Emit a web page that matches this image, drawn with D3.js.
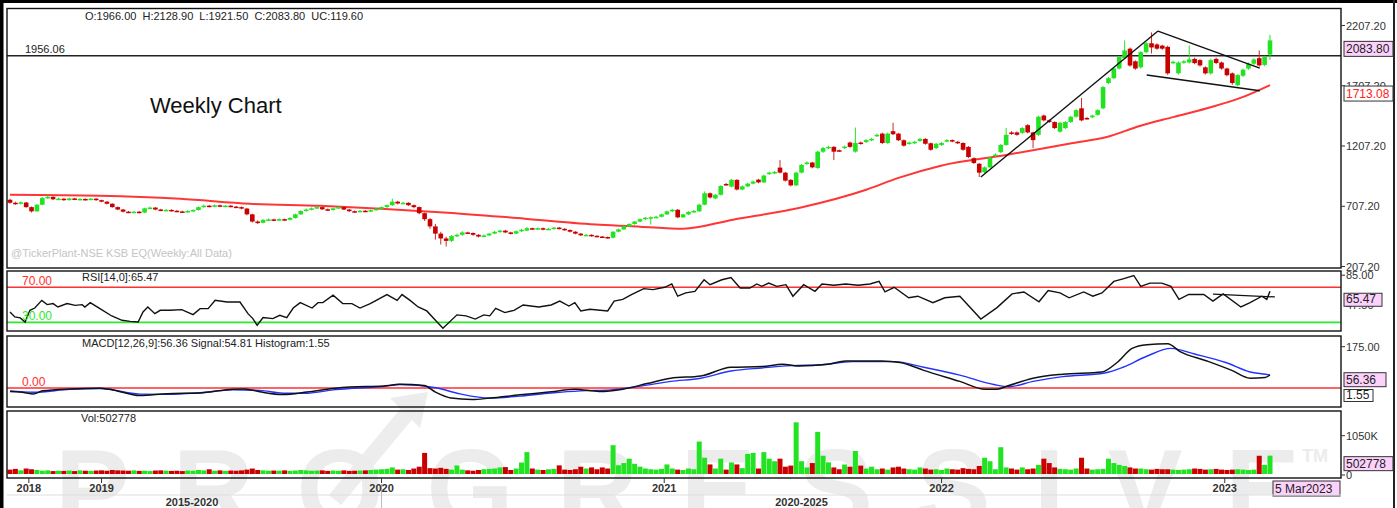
<!DOCTYPE html>
<html><head><meta charset="utf-8">
<script src="https://cdn.jsdelivr.net/npm/d3@7"></script>
<style>body{margin:0;background:#fff}svg{display:block}text{font-family:"Liberation Sans",Arial,sans-serif}</style>
</head><body><svg id="c" width="1397" height="508"></svg>
<script>
// ---- weekly OHLC (Sep 2018 .. 5 Mar 2023) ----
const opens = [
761,736,728,738,700,665,720,775,785,765, 770,758,772,764,768,762,770,758,745,728,
700,680,662,656,662,655,690,696,680,672, 677,670,664,660,668,676,700,712,704,715,
706,712,704,700,688,640,580,570,594,598, 590,600,595,610,640,668,680,690,700,682,
676,690,700,680,666,660,670,664,675,686, 700,716,745,730,736,716,700,650,600,540,
480,440,420,460,470,490,485,470,456,465, 480,495,505,490,480,500,505,525,518,525,
515,520,530,520,510,496,480,466,470,462, 456,452,446,496,515,540,560,580,600,612,
616,620,640,665,678,615,640,660,665,720, 815,772,802,892,870,926,846,872,895,928,
905,975,982,1028,986,926,880,986,1060,1070, 1025,1160,1190,1200,1172,1190,1236,1160,1236,1240,
1256,1290,1310,1232,1330,1310,1255,1226,1232,1250, 1266,1230,1190,1216,1246,1256,1242,1232,1200,1106,
1060,990,1030,1126,1156,1216,1320,1320,1316,1380, 1320,1300,1460,1420,1406,1326,1356,1406,1450,1520,
1440,1446,1466,1520,1730,1770,1850,1936,2015,1910, 1860,1986,2060,2050,2040,2030,1896,1810,1900,1900,
1930,1920,1860,1810,1930,1900,1850,1810,1712,1790, 1850,1890,1936,1880,1966];
const highs = [
770,745,748,742,705,725,785,800,790,778, 774,778,776,775,772,776,774,762,750,732,
705,685,668,668,668,695,705,700,686,684, 682,675,670,674,682,706,720,718,722,720,
718,716,710,705,692,645,590,600,605,604, 606,605,616,646,674,688,697,708,705,688,
696,708,705,685,672,676,675,680,692,706, 722,770,752,744,740,722,705,655,610,560,
495,455,468,480,500,496,490,475,472,486, 502,512,510,495,506,520,535,530,532,530,
528,536,536,525,515,500,485,476,474,466, 460,456,500,522,546,566,586,606,618,622,
628,646,672,686,684,646,666,676,728,830, 822,810,882,900,934,932,880,902,920,934,
970,994,1000,1090,992,932,994,1058,1080,1076, 1168,1200,1210,1206,1178,1210,1244,1360,1244,1264,
1274,1310,1318,1318,1400,1316,1262,1244,1250,1274, 1272,1236,1234,1240,1264,1262,1250,1238,1206,1112,
1066,1038,1118,1146,1224,1356,1330,1328,1364,1388, 1326,1458,1468,1428,1412,1408,1414,1458,1512,1605,
1448,1468,1512,1704,1780,1860,1955,2083,2025,1918, 1994,2070,2150,2060,2048,2040,1916,1910,1920,2042,
1940,1928,1868,1930,1940,1908,1858,1818,1804,1850, 1900,1935,2000,1956,2128.9];
const lows = [
728,720,722,695,655,660,715,770,758,760, 752,754,758,760,756,758,752,740,722,695,
675,656,650,650,648,650,684,674,666,667, 664,658,654,655,662,670,695,698,700,700,
700,698,694,682,632,572,560,565,588,584, 585,588,590,605,635,662,674,684,676,670,
670,684,675,660,654,655,658,660,670,680, 695,710,722,724,710,690,640,585,520,430,
390,373,410,452,462,476,462,448,450,460, 475,488,484,472,476,494,500,512,512,508,
510,514,514,504,490,474,460,460,455,450, 446,438,440,490,510,534,554,574,594,555,
608,614,634,658,608,610,634,654,660,715, 772,765,796,878,864,838,840,866,888,898,
900,968,974,980,912,872,874,980,1052,1022, 1018,1150,1182,1090,1158,1182,1192,1152,1218,1232,
1248,1282,1224,1226,1298,1248,1202,1218,1224,1242, 1218,1168,1182,1208,1238,1238,1224,1168,1108,1058,
950,982,1024,1118,1148,1210,1300,1292,1308,1312, 1190,1292,1412,1398,1348,1318,1348,1398,1442,1412,
1426,1438,1458,1512,1720,1762,1842,1928,1865,1840, 1850,1976,1975,2005,2005,1798,1886,1800,1890,1892,
1886,1866,1800,1800,1886,1840,1785,1715,1702,1780, 1840,1880,1866,1870,1921.5];
const closes = [
736,728,740,700,665,720,775,785,765,770, 758,772,764,768,762,770,758,745,728,700,
680,662,656,662,655,690,696,680,672,677, 670,664,660,668,676,700,712,704,715,706,
712,704,700,688,640,580,570,594,598,590, 600,595,610,640,668,680,690,700,682,676,
690,700,680,666,660,670,664,675,686,700, 716,745,730,736,716,700,650,600,540,480,
440,420,460,470,490,485,470,456,465,480, 495,505,490,480,500,512,525,518,525,515,
520,530,520,510,496,480,466,470,462,456, 452,446,496,515,540,560,580,600,612,616,
620,640,665,678,615,640,660,668,720,815, 780,802,875,886,926,846,872,895,912,905,
962,986,992,986,920,880,986,1050,1070,1030, 1160,1190,1200,1160,1166,1202,1200,1232,1226,1256,
1266,1300,1232,1310,1305,1255,1210,1236,1242,1266, 1226,1176,1226,1232,1256,1246,1232,1176,1116,1066,
986,1030,1110,1136,1216,1300,1310,1300,1356,1320, 1256,1450,1420,1406,1356,1400,1406,1450,1505,1420,
1434,1460,1505,1696,1770,1850,1945,2000,1875,1850, 1986,2060,2025,2015,2015,1810,1906,1900,1910,1926,
1895,1876,1810,1920,1896,1850,1795,1730,1796,1840, 1890,1925,1876,1946,2083.8];
// volume, thousands
const volumes = [
120,140,100,150,130,110,90,100,80,90, 85,95,80,100,90,85,95,100,90,110,
100,95,90,100,85,90,80,95,100,90, 85,90,80,95,90,110,100,130,90,100,
85,95,90,100,120,150,110,100,90,95, 90,100,85,95,110,100,90,95,100,85,
95,90,100,85,90,95,100,110,120,130, 140,180,120,130,110,150,200,578,160,150,
170,140,120,236,120,100,90,110,130,140, 150,180,190,110,150,315,600,150,120,110,
130,140,236,120,110,130,200,150,180,130, 180,150,790,240,300,420,280,200,150,130,
120,140,262,150,120,110,150,130,890,446, 262,150,420,120,315,262,160,550,577,150,
600,420,350,420,200,230,1417,350,180,300, 1155,500,320,180,130,260,200,630,230,150,
200,130,150,120,180,200,150,130,120,180, 150,120,130,110,150,130,120,160,140,130,
220,446,350,130,735,180,150,120,180,130, 150,250,420,300,180,140,130,120,150,446,
150,120,130,140,420,300,250,220,180,150, 150,130,120,140,130,130,120,110,120,130,
150,140,120,130,140,120,110,120,130,120, 110,120,500,250,502.778];
// moving average (read points: week index, value)
const maIdx = [0,16.7,31.6,44.6,57.6,68.9,81.3,95.6,109.6,117,125,134.3,146.7,159,165,172.7,185,197.4,203.7,209.8,216,222.3,228.4,234];
const maVal = [802,794,769,728,711,687,654,604,554,538,521,596,695,844,943,1042,1133,1232,1282,1373,1447,1521,1604,1713.08];
// RSI (week index, value)
const rsiIdx = [0,0.9,1.9,2.8,3.7,4.6,5.9,6.9,8,8.9,10.6,12.1,13.4,13.9,14.9,16.7,18.9,20.8,22.3,23.8,24.7,25.6,26.9,27.9,29.7,31.9,34,35.3,36.8,38.1,40.3,42.7,44.2,45.1,45.9,47,48.8,50.1,51.4,52.6,53.9,56.1,57.2,58.1,60,61.8,63.5,65,66.9,70,71.9,72.8,74.3,75.8,77.4,79.1,80.4,83,84.7,86.4,88,89.1,90.2,91.9,93.6,95.3,98.2,100.5,102.1,103.8,104.9,106,107.7,111,112.2,113.8,115.5,117.7,119.4,121.6,122.9,124,125.5,127.2,128.9,130,132.2,133.9,135.6,137.4,138.7,139.6,140.9,142.4,144.1,145.4,147.4,149.5,150.8,153,155.2,157.5,159.7,161.4,162.5,164.2,166.9,168.6,171.4,173.6,176.4,180.3,183.3,186.1,188.3,191.1,192.8,195,196.7,199.4,201.1,202.8,205,206.7,208.7,210,211.7,213.9,215.6,217.1,218.9,221.7,223.4,225.3,228.6,230.3,232.5,233.4,234];
const rsiVal = [41.8,36.1,35,30.3,43.7,46.3,55.1,50.2,51.4,47.5,51.4,49.4,50.2,47.5,52.5,45.6,37.2,32.3,31.1,30.3,41.8,47.5,39.9,43.7,43.7,44.5,38.8,45.6,45.6,55.1,53.2,53.2,39.9,34.2,26.6,35.4,34.2,38,35.4,46.3,52.5,46.3,52.5,52.5,60.9,51.4,51.4,46.3,51.4,61.7,55.1,61.7,55.1,47.5,43,31.7,23.1,38.5,37.4,33.7,38.5,37.4,46,41.1,43.7,49.8,47.5,49.8,54.2,48.6,52.4,43,44.9,43,54.2,56.2,61.8,68.5,67.4,70,73.8,59.8,63.6,65.4,78.6,73,78.6,81.2,69.2,69.2,73.8,71.1,74.8,71.1,73,59.8,73,65.4,73.8,72.3,73.8,72.3,73.8,76.7,64.7,70,58,59.8,52.4,58,59.8,33.7,46.8,62.5,64.7,53.5,66.2,63.6,58,64.7,59.8,63.6,76.7,79.7,83.5,71.1,74.8,74.8,71.1,56.2,61.8,61.8,54.2,62.5,47.5,52.4,59.8,56.2,65.47];
// MACD line and signal (week index, value)
const macdIdx = [0,2.8,4.3,6.1,11.1,16.7,19.1,24.1,29.2,35.3,41.4,43.6,46.4,50.7,55.2,60,63.1,69.3,72.4,76.9,79.1,81.9,85.8,89.1,94.7,100.5,104.9,109.4,113.8,118.3,122.7,128.3,133.9,139.6,143.5,146.3,151.9,155.2,161.9,165.3,169.7,176.4,181.1,183.3,185.5,190,195.5,202.8,205.6,208.4,211.1,215,217.3,222.3,226.9,230.3,233.1,234];
const macdVal = [-15,-20,-25.6,-12,-4,-1,-8,-32,-24,-21,-5,-4,-16,-28,-17,-2,4,8,16,10.6,-18.7,-42.7,-49,-42.7,-29,-16,-5,-14.6,-5,18.7,41.5,50.8,88,90.6,101,93.5,101,114.6,114.6,108,74.8,28,-5.3,-5,10.6,41.5,58.6,68,108,168,183.7,187.8,154.5,114.6,74.8,41.5,44,56.36];
const sigIdx = [0,4.3,11.1,16.7,24.1,29.2,35.3,41.4,46.4,50.7,55.2,60,63.1,69.3,72.4,79.1,83.6,89.1,94.7,100.5,106,111.6,117.2,122.7,128.3,133.9,139.6,145.2,150.8,156.4,164.2,169.7,176.4,182.7,185.5,190,195.5,203.3,206.7,211.1,215.6,220,225.8,230.3,233.2,234];
const sigVal = [-12,-18,-6,-2,-26,-27,-20,-8,-10,-22,-22,-8,-2,6,15,1,-25,-42.7,-34.6,-21,-12,-8,8,28,41.5,72,85,94.7,98.8,111.8,111.8,88,54.5,14.6,5.3,28,48,63.8,88,134.5,168,144,108,68,58,54.81];
// drawn trendlines (week index / price)
const trendFromIdx = [180.3,213.2,211.1];
const trendFromVal = [950,2161,1796];
const trendToIdx   = [213.2,232.1,232.1];
const trendToVal   = [2161,1854,1666];
const hLevel = 1956.06;
const rsiTrendIdx = [223.4,234.9];
const rsiTrendVal = [62.1,59.0];
// axes
const priceTicks = [2207.2,1707.2,1207.2,707.2,207.2];
const yearLabels = ["2018","2019","2020","2021","2022","2023"];
const yearIdx = [3.5,17,69,121.5,173,225.6];
const eraLabels = ["2015-2020","2020-2025"];
const eraIdx = [33.8,147];

const svg = d3.select("#c");
const GREEN="#22e322", RED="#c80000", GREENW="#22e322", REDW="#cc2a2a";
const L=7, R=1341;
const x = d3.scaleLinear().domain([0, opens.length-1]).range([10,1270]);
const yP = d3.scaleLinear().domain([207.2,2207.2]).range([266.5,25.5]);
const yR = d3.scaleLinear().domain([30,70]).range([322.3,287.3]);
const yM = d3.scaleLinear().domain([0,175]).range([388,346.7]);
const yV = d3.scaleLinear().domain([0,1050]).range([474,435.7]);
const panels = {main:[8.5,268], rsi:[271,331], macd:[336,407], vol:[411,478]};

// outer frame
svg.append("rect").attr("x",0).attr("y",0).attr("width",1397).attr("height",508).attr("fill","#fff");
svg.append("rect").attr("x",0).attr("y",0).attr("width",1397).attr("height",3).attr("fill","#000");
svg.append("rect").attr("x",0).attr("y",0).attr("width",3.5).attr("height",508).attr("fill","#000");
svg.append("rect").attr("x",1393).attr("y",0).attr("width",2).attr("height",508).attr("fill","#222");

// watermark
const wm = svg.append("g");
wm.append("line").attr("x1",335).attr("y1",500).attr("x2",408).attr("y2",412).attr("stroke","#ededed").attr("stroke-width",16);
wm.append("path").attr("d",d3.line()([[390,398],[428,392],[420,428]])+"Z").attr("fill","#ececec");
wm.append("text").attr("x",55).attr("y",527).attr("textLength",1245).attr("lengthAdjust","spacing")
  .attr("font-size",112).attr("font-weight","bold").attr("fill","#ececec").text("PROGRESSIVE");
wm.append("text").attr("x",1302).attr("y",462).attr("font-size",18).attr("font-weight","bold").attr("fill","#ececec").text("TM");

const defs = svg.append("defs");
Object.entries(panels).forEach(([k,[t,b]])=>{
  defs.append("clipPath").attr("id","cp-"+k).append("rect").attr("x",L).attr("y",t).attr("width",R-L).attr("height",b-t);
});
function pg(k){ return svg.append("g").attr("clip-path","url(#cp-"+k+")"); }

// ---- main panel ----
const idx = d3.range(opens.length);
const gm = pg("main");
gm.append("line").attr("x1",L).attr("x2",R).attr("y1",yP(hLevel)).attr("y2",yP(hLevel)).attr("stroke","#222").attr("stroke-width",1.3);
gm.append("path").datum(d3.zip(maIdx,maVal)).attr("fill","none").attr("stroke","#ff2b2b").attr("stroke-width",2).attr("stroke-opacity",0.95)
  .attr("d",d3.line().x(d=>x(d[0])).y(d=>yP(d[1])).curve(d3.curveMonotoneX));
gm.selectAll("line.wick").data(idx).join("line").attr("class","wick")
  .attr("x1",i=>x(i)).attr("x2",i=>x(i)).attr("y1",i=>yP(highs[i])).attr("y2",i=>yP(lows[i]))
  .attr("stroke",i=>closes[i]>=opens[i]?GREENW:REDW).attr("stroke-width",1);
gm.selectAll("rect.body").data(idx).join("rect").attr("class","body")
  .attr("x",i=>x(i)-2.3).attr("width",4.6)
  .attr("y",i=>yP(Math.max(opens[i],closes[i])))
  .attr("height",i=>Math.max(1.5,Math.abs(yP(opens[i])-yP(closes[i]))))
  .attr("fill",i=>closes[i]>=opens[i]?GREEN:RED);
gm.selectAll("line.trend").data(d3.range(trendFromIdx.length)).join("line").attr("class","trend")
  .attr("x1",k=>x(trendFromIdx[k])).attr("y1",k=>yP(trendFromVal[k]))
  .attr("x2",k=>x(trendToIdx[k])).attr("y2",k=>yP(trendToVal[k]))
  .attr("stroke","#111").attr("stroke-width",1.4);

// ---- RSI ----
const gr = pg("rsi");
gr.append("line").attr("x1",L).attr("x2",R).attr("y1",yR(70)).attr("y2",yR(70)).attr("stroke","#ff3030").attr("stroke-width",1.6);
gr.append("line").attr("x1",L).attr("x2",R).attr("y1",yR(30)).attr("y2",yR(30)).attr("stroke","#2ee82e").attr("stroke-width",1.8);
gr.append("path").datum(d3.zip(rsiIdx,rsiVal)).attr("fill","none").attr("stroke","#111").attr("stroke-width",1.4)
  .attr("d",d3.line().x(d=>x(d[0])).y(d=>yR(d[1])));
gr.append("line").attr("x1",x(rsiTrendIdx[0])).attr("y1",yR(rsiTrendVal[0])).attr("x2",x(rsiTrendIdx[1])).attr("y2",yR(rsiTrendVal[1])).attr("stroke","#111").attr("stroke-width",1.3);

// ---- MACD ----
const gc = pg("macd");
gc.append("line").attr("x1",L).attr("x2",R).attr("y1",yM(0)).attr("y2",yM(0)).attr("stroke","#ff3030").attr("stroke-width",1.6);
gc.append("path").datum(d3.zip(sigIdx,sigVal)).attr("fill","none").attr("stroke","#2233ff").attr("stroke-width",1.4)
  .attr("d",d3.line().x(d=>x(d[0])).y(d=>yM(d[1])).curve(d3.curveMonotoneX));
gc.append("path").datum(d3.zip(macdIdx,macdVal)).attr("fill","none").attr("stroke","#111").attr("stroke-width",1.5)
  .attr("d",d3.line().x(d=>x(d[0])).y(d=>yM(d[1])).curve(d3.curveMonotoneX));

// ---- Volume ----
const gv = pg("vol");
gv.selectAll("rect.v").data(idx).join("rect").attr("class","v")
  .attr("x",i=>x(i)-2.5).attr("width",5)
  .attr("y",i=>yV(volumes[i])).attr("height",i=>yV(0)-yV(volumes[i]))
  .attr("fill",i=>closes[i]>=opens[i]?GREEN:RED);

// panel borders
Object.values(panels).forEach(([t,b])=>{
  svg.append("rect").attr("x",L).attr("y",t).attr("width",R-L).attr("height",b-t).attr("fill","none").attr("stroke","#111").attr("stroke-width",1.4);
});

// ---- right axis ----
const ax = svg.append("g").attr("font-size",11).attr("fill","#333");
function tick(y,label){
  ax.append("line").attr("x1",R).attr("x2",R+4).attr("y1",y).attr("y2",y).attr("stroke","#333");
  ax.append("text").attr("x",R+5).attr("y",y+4).attr("fill","#333").text(label);
}
priceTicks.forEach(v=>tick(yP(v), v.toFixed(2)));
tick(yR(85)+1,"85.00");
ax.append("text").attr("x",R+5).attr("y",309).attr("fill","#333").text("47.50");
tick(yM(175),"175.00");
tick(yV(1050),"1050K");
tick(yV(0)+1,"0");

function box(x0,y0,w,h,fill,txt,col){
  svg.append("rect").attr("x",x0).attr("y",y0).attr("width",w).attr("height",h).attr("fill",fill).attr("stroke","#333").attr("stroke-width",1);
  svg.append("text").attr("x",x0+2).attr("y",y0+h-3).attr("font-size",12).attr("fill",col).text(txt);
}
box(R+3,yP(closes[closes.length-1])+1,49,15,"#fcd2fc","2083.80","#222");
box(R+3,yP(maVal[maVal.length-1])+1,49,15,"#fff","1713.08","#ff2020");
box(R+3,yR(65.47)+2,38,13,"#fcd2fc","65.47","#222");
box(R+3,yM(56.36)-2,42,14,"#fcd2fc","56.36","#222");
box(R+3,yM(0)+1.5,29,12,"#fff","1.55","#222");
box(R+3,yV(502.778)+1,49,14,"#fcd2fc","502778","#222");
box(1273,481,67,15,"#fcd2fc","5 Mar2023","#222");

// ---- x axis ----
const xa = svg.append("g");
xa.append("line").attr("x1",L).attr("x2",R).attr("y1",495).attr("y2",495).attr("stroke","#ddd");
xa.append("line").attr("x1",x(yearIdx[2])).attr("x2",x(yearIdx[2])).attr("y1",484).attr("y2",508).attr("stroke","#bbb");
yearIdx.forEach((v,k)=>{
  xa.append("line").attr("x1",x(v)).attr("x2",x(v)).attr("y1",478).attr("y2",483).attr("stroke","#333");
  xa.append("text").attr("x",x(v)).attr("y",492).attr("text-anchor","middle").attr("font-size",11).attr("font-weight","bold").attr("fill","#333").text(yearLabels[k]);
});
eraIdx.forEach((v,k)=>{
  xa.append("text").attr("x",x(v)).attr("y",506).attr("text-anchor","middle").attr("font-size",11).attr("font-weight","bold").attr("fill","#333").text(eraLabels[k]);
});

// ---- texts ----
const t = svg.append("g").attr("font-size",11).attr("fill","#222");
t.append("text").attr("x",85).attr("y",20).attr("fill","#222").attr("xml:space","preserve").text("O:1966.00  H:2128.90  L:1921.50  C:2083.80  UC:119.60");
t.append("text").attr("x",25).attr("y",53).attr("fill","#222").text("1956.06");
t.append("text").attr("x",150).attr("y",113).attr("font-size",22).attr("font-family","Lato, 'Open Sans', sans-serif").attr("fill","#111").text("Weekly Chart");
t.append("text").attr("x",11).attr("y",257).attr("fill","#c4c4c4").text("@TickerPlant-NSE KSB EQ(Weekly:All Data)");
t.append("text").attr("x",82).attr("y",281).attr("fill","#222").text("RSI[14,0]:65.47");
t.append("text").attr("x",22).attr("y",285).attr("font-size",12).attr("fill","#ff3030").text("70.00");
t.append("text").attr("x",22).attr("y",320).attr("font-size",12).attr("fill","#2ee82e").text("30.00");
t.append("text").attr("x",82).attr("y",347).attr("fill","#222").text("MACD[12,26,9]:56.36 Signal:54.81 Histogram:1.55");
t.append("text").attr("x",22).attr("y",386).attr("font-size",12).attr("fill","#ff3030").text("0.00");
t.append("text").attr("x",81).attr("y",422).attr("fill","#222").text("Vol:502778");
</script></body></html>
